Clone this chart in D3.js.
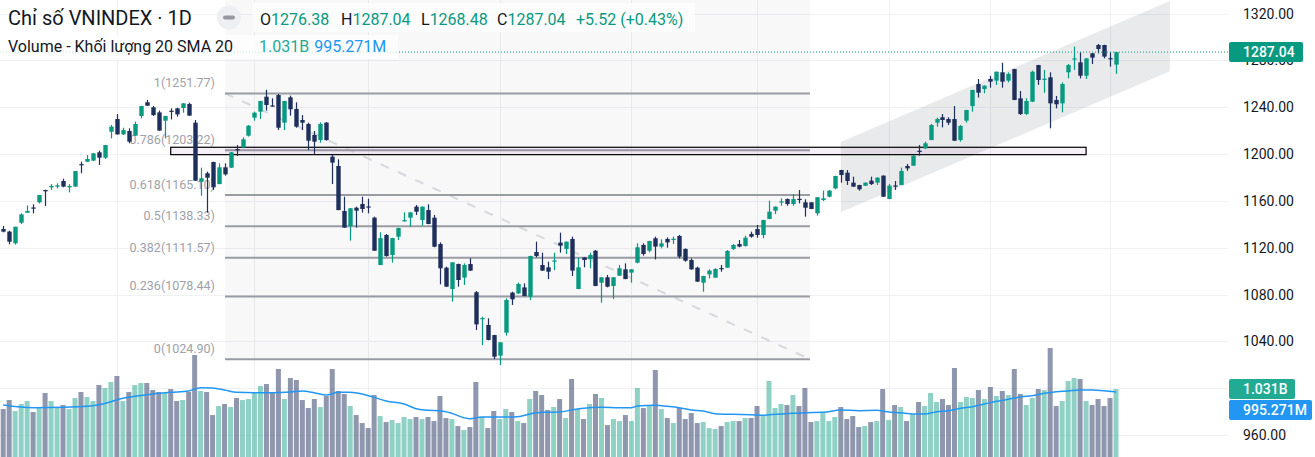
<!DOCTYPE html>
<html>
<head>
<meta charset="utf-8">
<script src="https://cdnjs.cloudflare.com/ajax/libs/d3/7.8.5/d3.min.js"></script>
<style>
  html, body { margin: 0; padding: 0; background: #fff; }
  svg { display: block; font-family: Roboto, "Noto Sans", sans-serif; }
</style>
</head>
<body>
<div id="chart"></div>
<script>
// daily candles, oldest first
const opens = [1136.0,1133.8,1123.8,1141.4,1149.9,1154.4,1158.8,1169.3,1171.6,1172.2,1177.0,1171.6,1172.2,1191.4,1193.5,1194.4,1201.5,1196.9,1219.1,1229.9,
  1216.8,1219.7,1215.7,1232.5,1244.2,1239.9,1235.6,1228.5,1237.0,1239.0,1239.3,1242.7,1226.8,1176.4,1183.6,1193.2,1174.4,1188.7,1188.4,1204.2,
  1205.7,1215.7,1231.1,1236.2,1249.0,1241.5,1250.4,1226.8,1248.4,1238.5,1229.1,1225.7,1216.3,1212.0,1226.8,1197.8,1189.8,1151.4,1138.6,1154.2,
  1157.4,1155.3,1145.7,1105.3,1130.9,1113.8,1129.5,1143.2,1145.7,1155.1,1143.7,1152.2,1145.7,1123.2,1103.0,1084.8,1106.1,1094.5,1106.1,1082.0,
  1059.6,1054.1,1045.5,1027.9,1047.5,1081.7,1081.1,1086.2,1078.3,1116.4,1105.3,1103.3,1108.8,1124.4,1119.0,1127.5,1084.8,1111.8,1110.4,1117.5,
  1090.2,1094.8,1087.4,1096.2,1101.6,1098.8,1107.3,1122.4,1117.5,1128.1,1121.0,1127.5,1127.3,1130.1,1119.0,1109.6,1103.0,1090.2,1097.3,1094.5,
  1102.7,1103.0,1119.0,1123.2,1121.5,1131.8,1136.0,1130.9,1144.6,1151.7,1159.2,1161.6,1157.4,1161.8,1158.8,1158.8,1149.4,1160.8,1163.6,1170.7,
  1186.4,1184.1,1175.6,1173.6,1173.0,1177.3,1175.6,1181.6,1161.6,1173.2,1173.6,1189.8,1190.1,1202.8,1204.9,1212.0,1226.8,1231.4,1229.9,1229.9,
  1212.0,1228.5,1241.0,1259.8,1255.5,1264.1,1262.7,1269.8,1262.7,1272.6,1247.6,1234.2,1244.7,1276.0,1263.9,1265.5,1246.2,1243.3,1269.8,1280.9,
  1278.3,1266.9,1286.0,1293.1,1293.1,1281.9,1276.38];
const highs = [1138.6,1134.6,1138.0,1149.4,1156.2,1157.1,1165.1,1169.6,1174.4,1175.0,1179.0,1174.4,1185.5,1193.5,1199.2,1201.0,1202.9,1207.9,1224.8,1234.2,
  1222.5,1222.0,1227.7,1241.2,1246.2,1241.0,1237.1,1232.7,1239.0,1239.6,1243.5,1243.9,1229.1,1188.4,1185.0,1193.5,1192.1,1192.1,1201.7,1207.7,
  1214.3,1224.8,1236.2,1245.5,1254.7,1247.6,1251.3,1245.5,1249.9,1244.2,1233.3,1226.8,1219.7,1227.1,1227.4,1199.2,1195.5,1163.6,1153.9,1155.1,
  1163.6,1161.9,1146.6,1133.2,1131.8,1128.5,1137.1,1150.2,1150.4,1156.5,1155.3,1157.1,1148.0,1124.6,1103.9,1107.8,1106.5,1106.7,1111.0,1083.1,
  1061.2,1059.8,1045.7,1039.5,1076.8,1082.5,1090.2,1089.6,1113.2,1125.2,1115.8,1108.1,1115.8,1132.9,1125.4,1129.5,1111.6,1112.0,1115.8,1118.1,
  1095.0,1096.8,1095.0,1105.3,1106.7,1101.8,1123.8,1123.8,1126.0,1129.5,1127.2,1128.9,1129.5,1130.9,1119.5,1111.0,1103.9,1096.1,1101.6,1102.5,
  1105.3,1118.1,1123.2,1126.6,1130.3,1133.8,1139.4,1143.9,1160.2,1155.3,1162.2,1162.2,1165.9,1169.3,1161.4,1159.0,1163.3,1168.8,1169.3,1181.5,
  1186.6,1186.4,1180.7,1173.8,1175.8,1180.7,1180.1,1181.8,1174.4,1177.0,1188.4,1191.5,1199.2,1207.7,1210.6,1225.7,1231.1,1234.2,1231.4,1241.0,
  1224.8,1237.8,1254.9,1264.1,1258.6,1266.9,1270.5,1278.0,1269.8,1272.8,1253.8,1247.6,1271.2,1276.2,1271.8,1269.8,1249.6,1261.2,1276.9,1291.7,
  1286.9,1281.9,1286.2,1294.0,1293.3,1286.9,1287.04];
const lows = [1133.2,1122.9,1122.7,1140.3,1149.9,1149.4,1157.9,1155.7,1169.3,1170.7,1171.6,1167.3,1172.0,1183.6,1193.3,1194.2,1190.7,1195.8,1213.4,1216.6,
  1216.3,1209.2,1215.5,1230.5,1241.0,1232.5,1220.0,1213.4,1229.6,1231.9,1235.3,1232.8,1177.0,1164.5,1150.0,1169.3,1174.2,1181.6,1188.2,1198.3,
  1205.0,1214.9,1228.5,1229.9,1237.1,1240.5,1220.5,1220.5,1232.8,1222.5,1220.5,1203.5,1200.1,1209.7,1211.4,1174.4,1152.0,1137.0,1126.1,1137.2,
  1150.0,1149.4,1117.3,1105.1,1112.4,1107.3,1126.6,1142.3,1138.0,1148.0,1138.9,1140.1,1120.4,1088.8,1086.5,1074.0,1086.8,1088.2,1100.3,1049.8,
  1037.0,1041.0,1025.0,1019.9,1045.0,1071.2,1080.5,1078.6,1075.4,1111.8,1100.3,1093.3,1101.0,1115.8,1114.7,1095.9,1084.6,1103.3,1102.5,1087.2,
  1073.1,1086.2,1076.3,1096.0,1093.1,1090.2,1106.7,1113.3,1116.1,1110.1,1119.5,1120.1,1123.2,1111.0,1108.1,1101.3,1090.8,1082.5,1093.9,1094.3,
  1099.6,1102.8,1118.1,1120.4,1121.0,1128.6,1128.6,1128.1,1144.4,1148.8,1155.9,1155.9,1155.9,1157.9,1146.6,1153.0,1147.4,1159.9,1163.1,1169.9,
  1175.6,1173.6,1172.0,1168.8,1172.8,1173.6,1173.6,1163.4,1161.4,1169.3,1173.4,1185.8,1189.9,1198.6,1204.3,1211.8,1223.4,1222.8,1224.8,1211.2,
  1210.6,1226.8,1236.2,1248.2,1251.9,1256.7,1259.0,1256.7,1261.2,1246.0,1233.4,1233.4,1244.5,1259.0,1252.4,1222.0,1239.0,1235.6,1264.6,1271.8,
  1264.6,1264.1,1276.9,1286.0,1281.7,1274.6,1268.48];
const closes = [1133.8,1125.2,1138.0,1148.5,1151.4,1154.0,1165.1,1168.2,1172.7,1173.3,1172.2,1172.7,1185.5,1191.0,1195.8,1200.6,1196.9,1207.7,1223.4,1216.8,
  1220.5,1210.6,1225.7,1241.0,1241.3,1233.3,1220.0,1232.5,1236.5,1233.9,1243.3,1232.8,1177.3,1179.3,1179.8,1171.6,1188.7,1182.7,1201.5,1203.8,
  1212.6,1224.2,1235.3,1245.3,1241.9,1241.1,1222.5,1245.3,1238.2,1223.4,1226.8,1211.4,1210.6,1225.7,1212.0,1192.7,1152.2,1137.2,1153.7,1151.7,
  1153.1,1154.9,1117.5,1128.3,1113.0,1128.3,1136.9,1143.6,1150.2,1150.8,1155.1,1140.3,1120.9,1102.5,1086.8,1107.6,1092.5,1105.3,1100.5,1054.6,
  1060.0,1041.3,1027.0,1039.3,1075.4,1076.0,1089.1,1078.8,1113.0,1113.0,1100.5,1099.6,1109.2,1121.8,1125.2,1100.5,1103.3,1109.6,1113.8,1087.4,
  1094.8,1086.8,1094.8,1102.5,1093.3,1101.6,1120.4,1114.7,1125.8,1121.0,1123.8,1124.6,1127.7,1112.4,1109.0,1101.6,1091.1,1095.9,1100.5,1101.9,
  1102.3,1117.3,1122.4,1121.0,1128.6,1129.5,1130.9,1143.7,1150.8,1155.1,1159.6,1157.4,1161.6,1161.4,1154.2,1153.1,1163.1,1162.2,1168.8,1181.3,
  1182.1,1177.0,1172.2,1169.9,1175.6,1174.4,1179.9,1163.6,1173.0,1172.8,1185.5,1187.8,1198.6,1202.4,1209.2,1224.8,1229.9,1229.1,1226.8,1211.4,
  1224.0,1237.6,1254.7,1252.4,1258.4,1261.8,1270.3,1261.8,1268.4,1246.2,1234.2,1245.3,1270.3,1263.2,1264.3,1243.3,1242.5,1259.8,1276.0,1281.7,
  1266.9,1281.7,1282.3,1289.7,1283.2,1281.52,1287.04];
// volume in millions
const volumes = [791,899,767,851,887,755,807,983,887,807,839,791,923,995,935,887,1079,1043,1115,1187,
  887,995,1079,1103,1103,1019,995,983,1031,887,899,995,1439,1007,995,719,827,851,815,923,
  899,911,995,1067,1091,983,1271,911,1163,1139,899,803,911,815,947,1271,1007,971,827,719,
  623,563,959,707,635,659,623,695,671,695,671,695,647,947,683,671,587,539,575,1115,
  695,563,767,671,791,755,647,623,911,1007,959,779,815,911,683,1151,791,671,851,971,
  923,599,671,647,719,647,1043,803,827,1259,791,683,623,803,671,743,623,635,563,551,
  587,635,647,647,683,683,827,707,1127,803,851,839,959,827,1043,635,647,755,647,695,
  815,671,707,575,587,635,647,1031,659,839,815,647,731,875,827,983,875,911,839,1283,
  875,935,923,1019,911,1055,947,1007,959,1271,971,839,923,1031,1019,1523,827,887,1127,1163,
  1151,887,839,911,827,923,1031];
// Volume SMA 20 as read at some candles (index, millions)
const smaIdx = [0,5,10,14,16,18,20,22,25,28,31,33,35,37,39,42,45,48,50,52,54,56,58,60,62,64,
  67,69,71,73,75,77,78,80,83,86,88,90,93,95,97,100,103,105,106,109,111,113,115,117,119,122,125,127,128,130,132,
  134,137,140,143,146,147,148,150,152,154,156,158,160,162,164,166,168,170,172,174,176,178,180,182,184,186];
const smaVal = [839,807,811,823,843,879,919,943,971,991,1007,1047,1043,1019,991,987,987,995,1007,987,959,991,991,971,931,887,
  851,795,775,771,739,687,675,695,695,699,731,751,755,779,799,811,807,807,827,835,823,807,779,767,735,727,723,715,723,731,739,
  747,751,779,771,775,767,755,747,731,731,759,771,799,819,851,883,907,935,951,979,999,1007,1019,1019,1011,995.27];

// axis ticks and month gridlines
const priceTicks = [960,1000,1040,1080,1120,1160,1200,1240,1280,1320];
const monthIdx = [19,42,61,83,105,126,148,165,185];

// drawings
const fibRatios = [1,0.786,0.618,0.5,0.382,0.236,0];
const fibPrices = [1251.77,1203.22,1165.10,1138.33,1111.57,1078.44,1024.90];
const fibIdx = [37.07,134.85];
const boxIdx = [28,181];
const boxPrices = [1205.8,1199.5];
const channelIdx = [140,195];
const channelTop = [1210.3,1330.7];
const channelBottom = [1150.3,1270.7];

const W = 1315, H = 457, plotW = 1228;
const UP = "#089981", DOWN = "#1e2f5c";

const svg = d3.select("#chart").append("svg").attr("width", W).attr("height", H);
svg.append("rect").attr("width", W).attr("height", H).attr("fill", "#fff");

const x = d3.scaleLinear().domain([0, 186]).range([3.2, 1116]);
const y = d3.scaleLinear().domain([960, 1320]).range([435.2, 13.5]);
const yv = d3.scaleLinear().domain([0, 1600]).range([475, 475 - 1600 * 0.0834]);

svg.append("clipPath").attr("id", "plot").append("rect").attr("width", plotW).attr("height", H);
const g = svg.append("g").attr("clip-path", "url(#plot)");

// grid
g.selectAll(".hg").data(priceTicks).enter().append("line")
  .attr("x1", 0).attr("x2", plotW)
  .attr("y1", d => Math.round(y(d)) + 0.5).attr("y2", d => Math.round(y(d)) + 0.5)
  .attr("stroke", "#eef0f3");
g.selectAll(".vg").data(monthIdx).enter().append("line")
  .attr("x1", d => Math.round(x(d)) + 0.5).attr("x2", d => Math.round(x(d)) + 0.5)
  .attr("y1", 0).attr("y2", H)
  .attr("stroke", "#eef0f3");

// fib background
g.append("rect")
  .attr("x", x(fibIdx[0])).attr("width", x(fibIdx[1]) - x(fibIdx[0]))
  .attr("y", 0).attr("height", y(fibPrices[6]))
  .attr("fill", "rgba(120,123,134,0.055)");

// channel
const chPts = [[channelIdx[0], channelTop[0]], [channelIdx[1], channelTop[1]],
  [channelIdx[1], channelBottom[1]], [channelIdx[0], channelBottom[0]]];
g.append("path")
  .attr("d", "M" + chPts.map(p => [x(p[0]), y(p[1])].join(",")).join("L") + "Z")
  .attr("fill", "rgba(120,123,134,0.16)");

// volume
const idx = d3.range(opens.length);
g.selectAll(".vol").data(idx).enter().append("rect")
  .attr("x", i => x(i) - 2.5).attr("width", 5)
  .attr("y", i => yv(volumes[i])).attr("height", i => yv(0) - yv(volumes[i]))
  .attr("fill", i => closes[i] >= opens[i] ? "rgba(8,153,129,0.45)" : "rgba(30,47,92,0.5)");

const smaLine = d3.line().x(d => x(d)).y((d, k) => yv(smaVal[k])).curve(d3.curveMonotoneX);
g.append("path").attr("d", smaLine(smaIdx))
  .attr("fill", "none").attr("stroke", "#2196f3").attr("stroke-width", 1.5);

// fib lines
g.append("line")
  .attr("x1", x(fibIdx[0])).attr("y1", y(fibPrices[0]))
  .attr("x2", x(fibIdx[1])).attr("y2", y(fibPrices[6]))
  .attr("stroke", "#d6d8de").attr("stroke-width", 2).attr("stroke-dasharray", "9,10");
g.selectAll(".fib").data(fibPrices).enter().append("line")
  .attr("x1", x(fibIdx[0])).attr("x2", x(fibIdx[1]))
  .attr("y1", d => y(d)).attr("y2", d => y(d))
  .attr("stroke", "#9a9ca4").attr("stroke-width", 2);
g.selectAll(".fibt").data(fibPrices).enter().append("text")
  .attr("x", x(fibIdx[0]) - 10).attr("y", d => y(d) - 6)
  .attr("text-anchor", "end").attr("font-size", 12.5).attr("fill", "#9ea1a9")
  .text((d, k) => fibRatios[k] + "(" + d.toFixed(2) + ")");

// rectangle
g.append("rect")
  .attr("x", x(boxIdx[0])).attr("width", x(boxIdx[1]) - x(boxIdx[0]))
  .attr("y", y(boxPrices[0])).attr("height", y(boxPrices[1]) - y(boxPrices[0]))
  .attr("fill", "rgba(150,80,165,0.09)").attr("stroke", "#000").attr("stroke-width", 1.2);

// candles
const candles = g.selectAll(".c").data(idx).enter().append("g");
candles.append("line")
  .attr("x1", i => Math.round(x(i)) + 0.5).attr("x2", i => Math.round(x(i)) + 0.5)
  .attr("y1", i => y(highs[i])).attr("y2", i => y(lows[i]))
  .attr("stroke", i => closes[i] >= opens[i] ? UP : DOWN).attr("stroke-width", 1.2);
candles.append("rect")
  .attr("x", i => Math.round(x(i)) + 0.5 - 2.2).attr("width", 4.4)
  .attr("y", i => y(Math.max(opens[i], closes[i])))
  .attr("height", i => Math.max(1.2, Math.abs(y(opens[i]) - y(closes[i]))))
  .attr("fill", i => closes[i] >= opens[i] ? UP : DOWN);

// last price line
const last = closes[closes.length - 1];
g.append("line").attr("x1", 0).attr("x2", plotW)
  .attr("y1", y(last)).attr("y2", y(last))
  .attr("stroke", UP).attr("stroke-width", 1).attr("stroke-dasharray", "1,2");

// right scale (1000 sits fully under the volume tag, so it is not drawn)
svg.selectAll(".pt").data(priceTicks.filter(d => d !== 1000)).enter().append("text")
  .attr("x", 1243).attr("y", d => y(d) + 5)
  .attr("font-size", 14).attr("fill", "#131722")
  .text(d => d.toFixed(2));

function tag(yc, w, color, label) {
  svg.append("rect").attr("x", 1229).attr("y", yc - 10).attr("width", w).attr("height", 20)
    .attr("rx", 2).attr("fill", color);
  svg.append("text").attr("x", 1243).attr("y", yc + 5)
    .attr("font-size", 14).attr("font-weight", 500).attr("fill", "#fff").text(label);
}
tag(y(last), 74, UP, last.toFixed(2));
tag(yv(volumes[volumes.length - 1]), 66, "#22ab94", "1.031B");
tag(410, 83, "#2196f3", "995.271M");

// legend
svg.append("rect").attr("x", 253).attr("y", 3).attr("width", 442).attr("height", 29)
  .attr("fill", "rgba(255,255,255,0.75)");
svg.append("rect").attr("x", 0).attr("y", 35).attr("width", 398).attr("height", 24)
  .attr("fill", "rgba(255,255,255,0.75)");

svg.append("text").attr("x", 8).attr("y", 25).attr("font-size", 20).attr("fill", "#131722")
  .text("Chỉ số VNINDEX · 1D");
svg.append("circle").attr("cx", 229).attr("cy", 17.5).attr("r", 12).attr("fill", "#eeeff2");
svg.append("rect").attr("x", 223).attr("y", 15.5).attr("width", 12).attr("height", 4).attr("rx", 2)
  .attr("fill", "#9598a1");

const ohlcLabels = ["O", "H", "L", "C"];
const ohlcVals = [opens, highs, lows, closes].map(a => a[a.length - 1].toFixed(2));
const ohlcX = [260, 341, 421, 497];
const leg = svg.append("text").attr("y", 25).attr("font-size", 16);
ohlcLabels.forEach((l, k) => {
  leg.append("tspan").attr("x", ohlcX[k]).attr("fill", "#131722").text(l);
  leg.append("tspan").attr("fill", UP).text(ohlcVals[k]);
});
const chg = closes[closes.length - 1] - closes[closes.length - 2];
leg.append("tspan").attr("x", 576).attr("fill", UP)
  .text("+" + chg.toFixed(2) + " (+" + (chg / closes[closes.length - 2] * 100).toFixed(2) + "%)");

const leg2 = svg.append("text").attr("y", 52).attr("font-size", 16);
leg2.append("tspan").attr("x", 8).attr("fill", "#131722").text("Volume - Khối lượng 20 SMA 20");
const volTxt = svg.append("text").attr("x", 259).attr("y", 52).attr("font-size", 16)
  .attr("fill", "#22ab94").text("1.031B");
const volW = volTxt.node().getComputedTextLength();
svg.append("text").attr("x", 259 + volW + 5).attr("y", 52).attr("font-size", 16)
  .attr("fill", "#2196f3").text("995.271M");
</script>
</body>
</html>
